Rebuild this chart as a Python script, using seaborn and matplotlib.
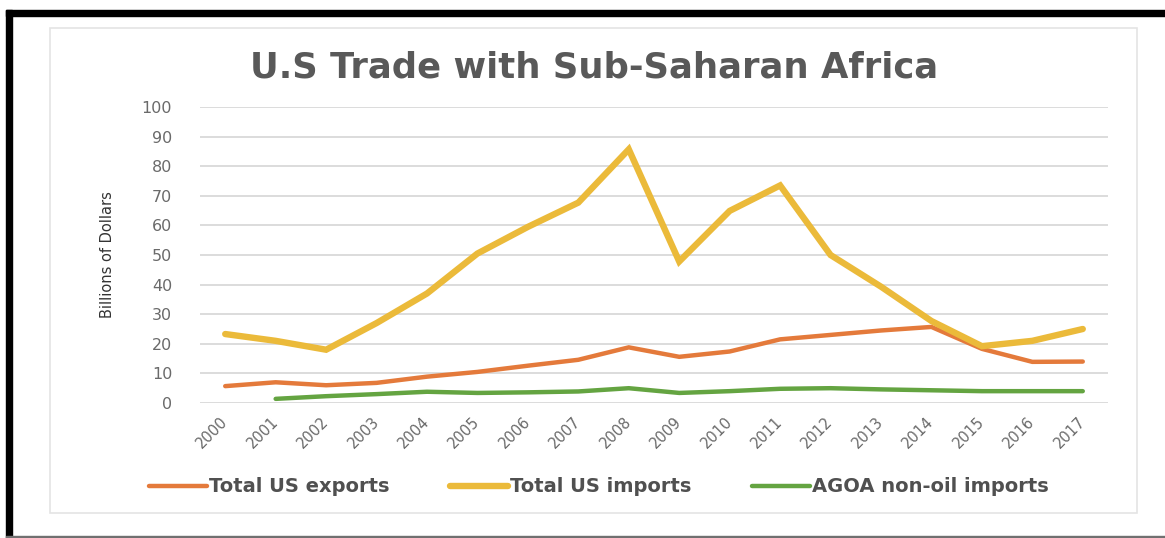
import matplotlib
matplotlib.use("Agg")
import matplotlib.pyplot as plt
import matplotlib.patches as mpatches
from matplotlib.lines import Line2D
import seaborn as sns
import pandas as pd
import numpy as np

years = list(range(2000, 2018))
exports = [5.7, 7.0, 6.0, 6.8, 8.9, 10.5, 12.6, 14.6, 18.8, 15.6, 17.4, 21.5, 23.0, 24.5, 25.7, 18.3, 13.9, 14.0]
imports = [23.3, 21.0, 18.0, 27.0, 37.0, 50.5, 59.5, 67.7, 85.7, 47.8, 64.9, 73.5, 50.0, 39.3, 27.7, 19.2, 21.0, 25.0]
agoa = [np.nan, 1.4, 2.3, 3.0, 3.8, 3.4, 3.6, 3.9, 5.0, 3.4, 4.0, 4.8, 5.0, 4.6, 4.3, 4.0, 4.0, 4.0]
series_names = ["Total US exports", "Total US imports", "AGOA non-oil imports"]
yticks = list(range(0, 101, 10))

colors = {"Total US exports": "#E47A3B", "Total US imports": "#EBBA3A", "AGOA non-oil imports": "#64A441"}
widths = {"Total US exports": 3.2, "Total US imports": 4.6, "AGOA non-oil imports": 3.2}

df = pd.DataFrame({"Year": years * 3,
                   "Value": exports + imports + agoa,
                   "Series": [series_names[0]] * 18 + [series_names[1]] * 18 + [series_names[2]] * 18})

sns.set_theme(style="white")
plt.rcParams['font.family'] = ['DejaVu Sans']

fig = plt.figure(figsize=(11.65, 5.38), dpi=100)
ax = fig.add_axes([200/1165, 1 - 403/538, 908/1165, 296/538])

for name in series_names:
    sub = df[df["Series"] == name].dropna()
    sns.lineplot(data=sub, x="Year", y="Value", ax=ax, color=colors[name],
                 linewidth=widths[name], legend=False, solid_joinstyle="miter")

ax.set_xlim(1999.5, 2017.5)
ax.set_ylim(0, 100)
ax.set_yticks(yticks)
ax.set_yticklabels([str(v) for v in yticks])
ax.set_xticks(years)
ax.set_xticklabels([str(y) for y in years], rotation=45, ha="right", va="center",
                   rotation_mode="anchor")
ax.yaxis.grid(True, color="#D9D9D9", linewidth=1.3)
ax.xaxis.grid(False)
for s in ax.spines.values():
    s.set_visible(False)
ax.tick_params(axis="y", length=0, pad=20, labelsize=11.5, labelcolor="#6A6A6A")
ax.tick_params(axis="x", length=0, pad=12, labelsize=10.5, labelcolor="#6A6A6A")
ax.set_xlabel("")
ax.set_ylabel("")

fig.text(0.092, 1 - 255/538, "Billions of Dollars", rotation=90, ha="center", va="center",
         fontsize=10.5, color="#333333", family=["Liberation Sans Narrow", "DejaVu Sans"])

fig.text(594/1165, 1 - 67/538, "U.S Trade with Sub-Saharan Africa", ha="center", va="center",
         fontsize=25.5, fontweight="bold", color="#595959")

handles = [Line2D([0], [0], color=colors[n], linewidth=widths[n]) for n in series_names]
fig.legend(handles, series_names, loc="center", bbox_to_anchor=(599/1165, 1 - 487/538),
           ncol=3, frameon=False, prop={"size": 14, "weight": "bold"}, handlelength=3.0,
           handletextpad=0.1, columnspacing=3.1, labelcolor="#505050")

# chart area frame and outer black border
fig.patches.append(mpatches.Rectangle((50/1165, 1 - 513/538), 1087/1165, 485/538,
                                      transform=fig.transFigure, fill=False,
                                      edgecolor="#E4E4E4", linewidth=1.2))
fig.patches.append(mpatches.Rectangle((6/1165, 1 - 16/538), 1159/1165, 6/538,
                                      transform=fig.transFigure, color="black"))
fig.patches.append(mpatches.Rectangle((6/1165, 0), 6/1165, 1 - 10/538,
                                      transform=fig.transFigure, color="black"))
fig.patches.append(mpatches.Rectangle((6/1165, 0), 1159/1165, 2/538,
                                      transform=fig.transFigure, color="#707070"))

fig.savefig("out.png", dpi=100)
